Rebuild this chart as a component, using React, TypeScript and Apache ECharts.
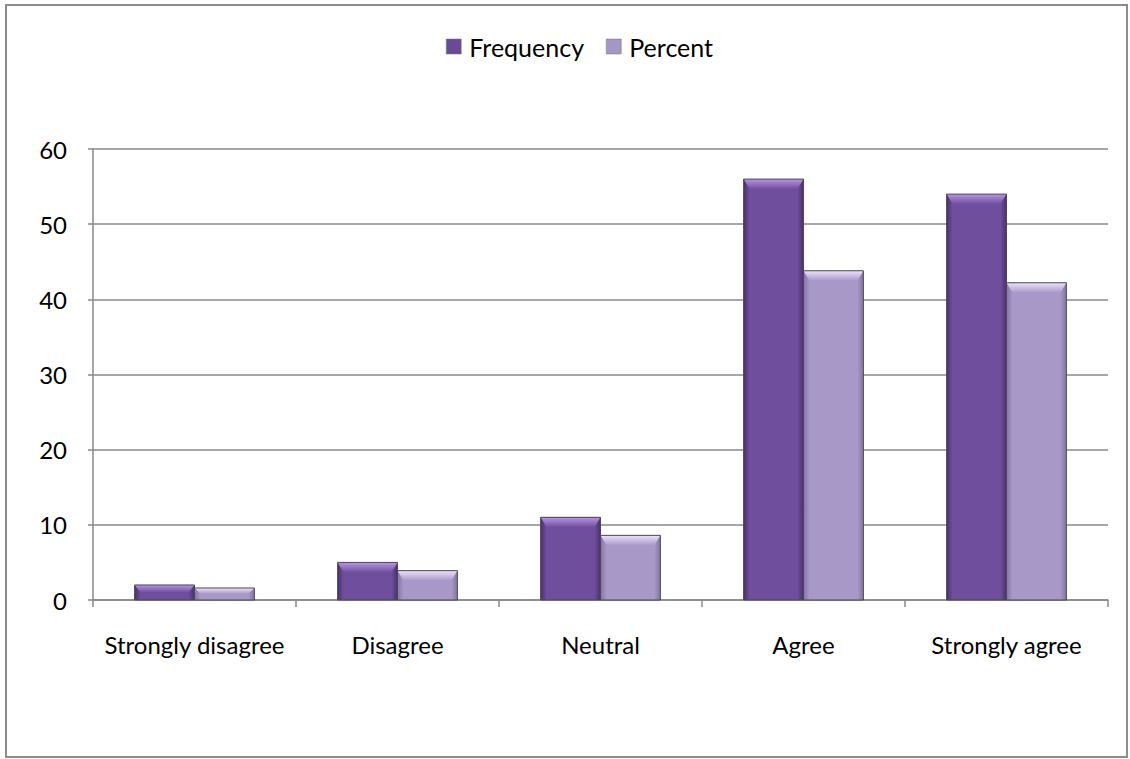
import React, { useEffect, useRef } from "react";
import * as echarts from "echarts";

// Survey responses: counts and share of all 128 respondents
const categories = ["Strongly disagree", "Disagree", "Neutral", "Agree", "Strongly agree"];
const frequency = [2, 5, 11, 56, 54];
const percent = [1.6, 3.9, 8.6, 43.8, 42.2];
const seriesNames = ["Frequency", "Percent"];
const yTicks = { min: 0, max: 60, interval: 10 };

// Palette for the bevelled columns: edge, body, top highlight and legend swatch
const palettes = [
  { edge: "#4a2f6e", body: "#6f4e9e", light: "#b796e0", legend: "#6a4a98" },
  { edge: "#8474a6", body: "#a898c8", light: "#eee2fa", legend: "#a596c6" },
];

const FONT = "Lato, 'Open Sans', sans-serif";
const FONT_SIZE = 24;

function makeRenderItem(seriesIdx: number) {
  const pal = palettes[seriesIdx];
  return (params: any, api: any) => {
    const cat = api.value(0);
    const val = api.value(1);
    const band = api.size([1, 0])[0];
    const barW = band * 0.295;
    const center = api.coord([cat, 0]);
    const top = api.coord([cat, val])[1];
    const bottom = center[1];
    const x0 = center[0] - barW + seriesIdx * barW;
    const h = bottom - top;
    const bev = Math.min(10, h / 2);
    const side = Math.min(6, barW / 6);
    return {
      type: "group",
      children: [
        {
          type: "rect",
          shape: { x: x0, y: top, width: barW, height: h },
          style: {
            fill: new echarts.graphic.LinearGradient(0, 0, 1, 0, [
              { offset: 0, color: pal.edge },
              { offset: 0.1, color: pal.body },
              { offset: 0.9, color: pal.body },
              { offset: 1, color: pal.edge },
            ]),
          },
        },
        {
          type: "polygon",
          shape: {
            points: [
              [x0, top],
              [x0 + barW, top],
              [x0 + barW - side, top + bev],
              [x0 + side, top + bev],
            ],
          },
          style: {
            fill: new echarts.graphic.LinearGradient(0, 0, 0, 1, [
              { offset: 0, color: pal.light },
              { offset: 1, color: pal.body },
            ]),
          },
        },
        {
          type: "rect",
          shape: { x: x0, y: top, width: barW, height: h },
          style: { fill: "none", stroke: "#4a4a4a", lineWidth: 1 },
        },
      ],
    };
  };
}

export default function App() {
  const ref = useRef<HTMLDivElement>(null);

  useEffect(() => {
    document.body.style.margin = "0";
    if (!ref.current) return;
    const chart = echarts.init(ref.current, undefined, { renderer: "svg" });
    const seriesData = [frequency, percent];
    chart.setOption({
      animation: false,
      backgroundColor: "#ffffff",
      textStyle: { fontFamily: FONT },
      graphic: [
        {
          type: "rect",
          shape: { x: 6, y: 5, width: 1121, height: 752 },
          style: { fill: "none", stroke: "#8c8c8c", lineWidth: 2 },
          silent: true,
        },
      ],
      legend: {
        top: 29,
        left: 441,
        itemWidth: 15,
        itemHeight: 15,
        itemGap: 22,
        icon: "rect",
        textStyle: { fontFamily: FONT, fontSize: 25, color: "#000", padding: [0, 0, 0, 3] },
        data: seriesNames.map((n, i) => ({
          name: n,
          itemStyle: { color: palettes[i].legend, borderColor: "#777", borderWidth: 0.5 },
        })),
      },
      grid: { left: 93, right: 22, top: 149, bottom: 159 },
      xAxis: {
        type: "category",
        data: categories,
        boundaryGap: true,
        axisLine: { lineStyle: { color: "#888", width: 1.5 } },
        axisTick: { show: true, length: 7, lineStyle: { color: "#888", width: 1.5 } },
        axisLabel: {
          color: "#000",
          fontSize: FONT_SIZE,
          fontFamily: FONT,
          margin: 32,
          interval: 0,
          hideOverlap: false,
        },
      },
      yAxis: {
        type: "value",
        min: yTicks.min,
        max: yTicks.max,
        interval: yTicks.interval,
        axisLine: { show: true, lineStyle: { color: "#888", width: 1.5 } },
        axisTick: { show: true, length: 5, lineStyle: { color: "#888", width: 1.5 } },
        axisLabel: { color: "#000", fontSize: FONT_SIZE, fontFamily: FONT, margin: 26 },
        splitLine: { lineStyle: { color: "#8a8a8a", width: 1.5 } },
      },
      series: seriesNames.map((name, i) => ({
        name,
        type: "custom",
        renderItem: makeRenderItem(i),
        encode: { x: 0, y: 1 },
        itemStyle: { color: palettes[i].legend },
        data: seriesData[i].map((v, k) => [k, v]),
      })),
    });
    return () => chart.dispose();
  }, []);

  return <div ref={ref} style={{ width: 1130, height: 759 }} />;
}
